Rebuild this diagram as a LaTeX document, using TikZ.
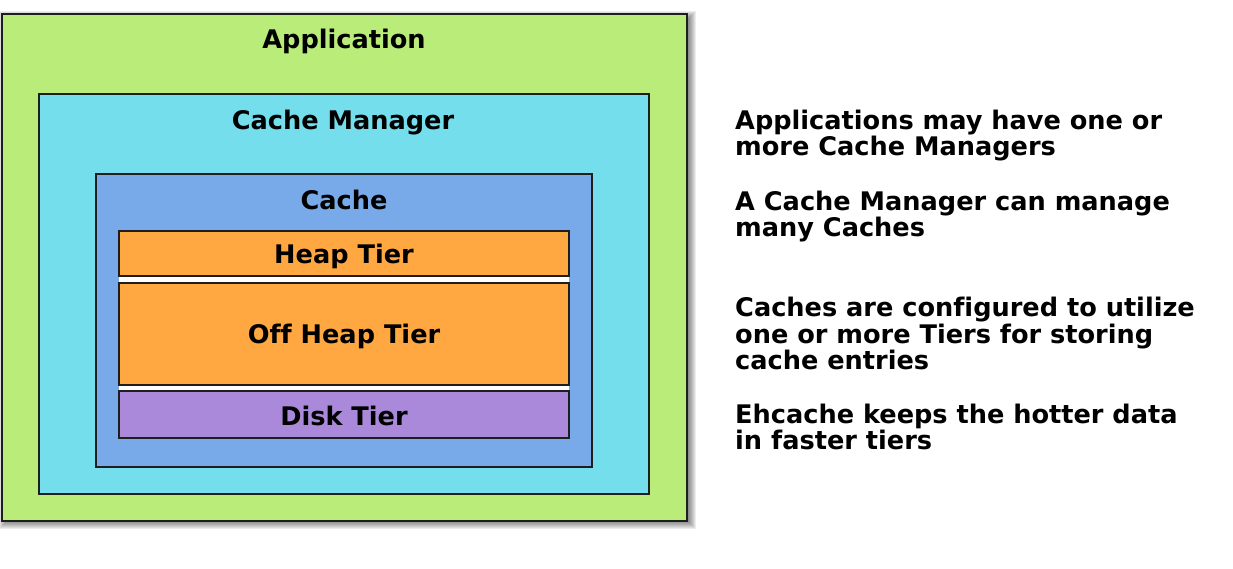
\documentclass[tikz,border=0pt]{standalone}
\usepackage{fontspec}
\setmainfont{DejaVu Sans}[Ligatures=NoCommon]
\definecolor{appgreen}{RGB}{185,236,120}
\definecolor{mgrcyan}{RGB}{116,222,236}
\definecolor{cacheblue}{RGB}{120,170,234}
\definecolor{tierorange}{RGB}{255,168,66}
\definecolor{diskpurple}{RGB}{170,137,219}
\definecolor{edge}{RGB}{30,30,30}
\tikzset{
  box/.style={draw=edge, line width=2pt, inner sep=0pt, outer sep=0pt, anchor=north west},
  lbl/.style={font=\fontsize{25.6}{30}\selectfont\bfseries, inner sep=0pt, anchor=base},
  note/.style={font=\fontsize{25.6}{30}\selectfont\bfseries, inner sep=0pt, anchor=base west},
}
\begin{document}
\begin{tikzpicture}[x=1pt,y=-1pt]
\useasboundingbox (0,0) rectangle (1233,568);
% soft shadow of the outer box
\foreach \r in {-5,-4,...,5}{
  \fill[black, opacity=0.07] (4-\r,16-\r) rectangle (691+\r,524+\r);
}
\node[box, fill=appgreen, minimum width=685.5pt, minimum height=507pt] (app) at (1.5,13.5) {};
\node[lbl] (appl) at (344,48) {Application};
\node[box, fill=mgrcyan, minimum width=610.5pt, minimum height=400.5pt] (mgr) at (38.5,93.5) {};
\node[lbl] (mgrl) at (343,129) {Cache Manager};
\node[box, fill=cacheblue, minimum width=496.5pt, minimum height=293.5pt] (cache) at (95.5,173.5) {};
\node[lbl] (cachel) at (344,209) {Cache};
\node[fill=white, inner sep=0pt, anchor=north west, minimum width=450.5pt, minimum height=206.5pt] (gap) at (118.5,231) {};
\node[box, fill=tierorange, minimum width=450.5pt, minimum height=45pt] (heap) at (118.5,231) {};
\node[lbl] (heapl) at (344,263) {Heap Tier};
\node[box, fill=tierorange, minimum width=450.5pt, minimum height=102.5pt] (off) at (118.5,282.5) {};
\node[lbl] (offl) at (344,343) {Off Heap Tier};
\node[box, fill=diskpurple, minimum width=450.5pt, minimum height=46.5pt] (disk) at (118.5,391) {};
\node[lbl] (diskl) at (344,425) {Disk Tier};
% notes
\node[note] (n1a) at (735,129) {Applications may have one or};
\node[note] (n1b) at (735,155.5) {more Cache Managers};
\node[note] (n2a) at (735,210) {A Cache Manager can manage};
\node[note] (n2b) at (735,236.5) {many Caches};
\node[note] (n3a) at (735,316.5) {Caches are configured to utilize};
\node[note] (n3b) at (735,343) {one or more Tiers for storing};
\node[note] (n3c) at (735,369.5) {cache entries};
\node[note] (n4a) at (735,423) {Ehcache keeps the hotter data};
\node[note] (n4b) at (735,449.5) {in faster tiers};
\end{tikzpicture}
\end{document}
